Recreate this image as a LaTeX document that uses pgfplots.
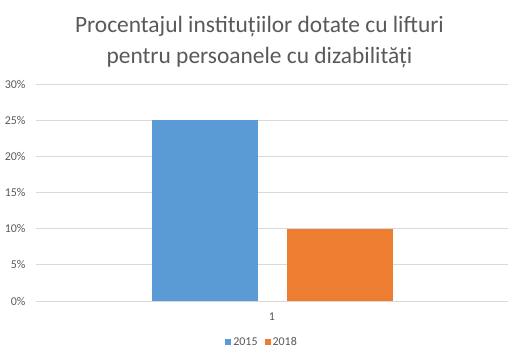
\documentclass[border=0pt]{standalone}
\usepackage{fontspec}
\setmainfont{Carlito}
\usepackage{pgfplots}
\pgfplotsset{compat=1.18}
\definecolor{txt}{HTML}{595959}
\definecolor{gridc}{HTML}{D9D9D9}
\definecolor{cblue}{HTML}{5B9BD5}
\definecolor{corange}{HTML}{ED7D31}
\begin{document}
\begin{tikzpicture}[x=1bp,y=1bp]
\useasboundingbox (0,0) rectangle (530,361);
\node[anchor=base,text=txt,font=\fontsize{23.5}{27}\selectfont,inner sep=0] at (259.5,328.3) {Procentajul instituțiilor dotate cu lifturi};
\node[anchor=base,text=txt,font=\fontsize{23.5}{27}\selectfont,inner sep=0] at (259.5,297.7) {pentru persoanele cu dizabilități};
\begin{axis}[
  at={(36bp,60bp)}, anchor=south west,
  scale only axis, width=472bp, height=217bp,
  ybar=29bp, bar width=106bp,
  xmin=-1, xmax=1, ymin=0, ymax=30,
  xtick={0}, xticklabels={1},
  ytick={0,5,10,15,20,25,30},
  yticklabel={\pgfmathprintnumber{\tick}\%},
  /pgf/number format/assume math mode=true,
  ymajorgrids=true, xmajorgrids=false, major grid style={draw=gridc, line width=0.75bp},
  axis line style={draw=none},
  major tick length=0,
  tick label style={text=txt, font=\fontsize{12}{14}\selectfont},
  yticklabel style={xshift=-7bp},
  xticklabel style={yshift=-8bp},
  legend columns=2,
  legend style={draw=none, at={(0.479,-0.189)}, anchor=center, text=txt, font=\fontsize{12}{14}\selectfont, /tikz/every even column/.append style={column sep=5bp}},
  legend image code/.code={\fill[#1] (0bp,-3bp) rectangle (6bp,3bp);},
]
\addplot[fill=cblue, draw=none] coordinates {(0,25)};
\addplot[fill=corange, draw=none] coordinates {(0,10)};
\legend{2015,2018}
\end{axis}
\end{tikzpicture}
\end{document}
